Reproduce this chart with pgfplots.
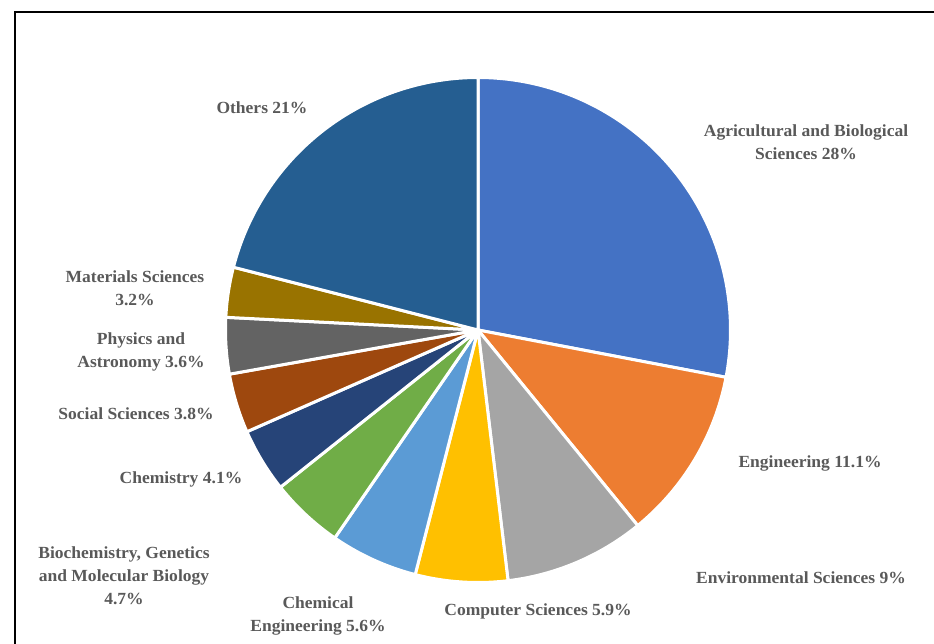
\documentclass[border=0pt]{standalone}
\usepackage{fontspec}
\setmainfont{Liberation Serif}[FakeStretch=1.03]
\usepackage{pgfplots}
\pgfplotsset{compat=1.18}

\definecolor{c1}{HTML}{4472C4}
\definecolor{c2}{HTML}{ED7D31}
\definecolor{c3}{HTML}{A5A5A5}
\definecolor{c4}{HTML}{FFC000}
\definecolor{c5}{HTML}{5B9BD5}
\definecolor{c6}{HTML}{70AD47}
\definecolor{c7}{HTML}{264478}
\definecolor{c8}{HTML}{9E480E}
\definecolor{c9}{HTML}{636363}
\definecolor{c10}{HTML}{997300}
\definecolor{c11}{HTML}{255E91}
\definecolor{lbl}{HTML}{595959}

\tikzset{lab/.style={font=\bfseries\fontsize{17}{23}\selectfont, text=lbl, align=center, inner sep=0pt}}

% slice from cumulative percent #1 to #2, clockwise from 12 o'clock
\newcommand{\slice}[3]{%
  \addplot[fill=#3, draw=white, line width=3pt, line join=round,
    domain={90-3.6*#2}:{90-3.6*#1}, samples=90, variable=\t]
    ({478+252.5*cos(\t)},{313+252.5*sin(\t)}) -- (478,313) -- cycle;}

\begin{document}
\begin{tikzpicture}
\begin{axis}[
    scale only axis,
    width=934pt, height=643pt,
    xmin=0, xmax=934, ymin=0, ymax=643,
    axis lines=none, ticks=none,
]
\draw[line width=2pt] (15,631) rectangle (1000,-50);

\slice{0}{28}{c1}
\slice{28}{39.1}{c2}
\slice{39.1}{48.1}{c3}
\slice{48.1}{54}{c4}
\slice{54}{59.6}{c5}
\slice{59.6}{64.3}{c6}
\slice{64.3}{68.4}{c7}
\slice{68.4}{72.2}{c8}
\slice{72.2}{75.8}{c9}
\slice{75.8}{79}{c10}
\slice{79}{100}{c11}

\node[lab] at (806,501) {Agricultural and Biological\\Sciences 28\%};
\node[lab] at (810,180) {Engineering 11.1\%};
\node[lab] at (801,65) {Environmental Sciences 9\%};
\node[lab] at (538,32) {Computer Sciences 5.9\%};
\node[lab] at (318,27.5) {Chemical\\Engineering 5.6\%};
\node[lab] at (124,67) {Biochemistry, Genetics\\and Molecular Biology\\4.7\%};
\node[lab] at (181,164) {Chemistry 4.1\%};
\node[lab] at (136,229) {Social Sciences 3.8\%};
\node[lab] at (141,291.5) {Physics and\\Astronomy 3.6\%};
\node[lab] at (135,354.5) {Materials Sciences\\3.2\%};
\node[lab] at (262,535) {Others 21\%};
\end{axis}
\pgfresetboundingbox
\path (0,0) rectangle (934pt,643pt);
\end{tikzpicture}
\end{document}
